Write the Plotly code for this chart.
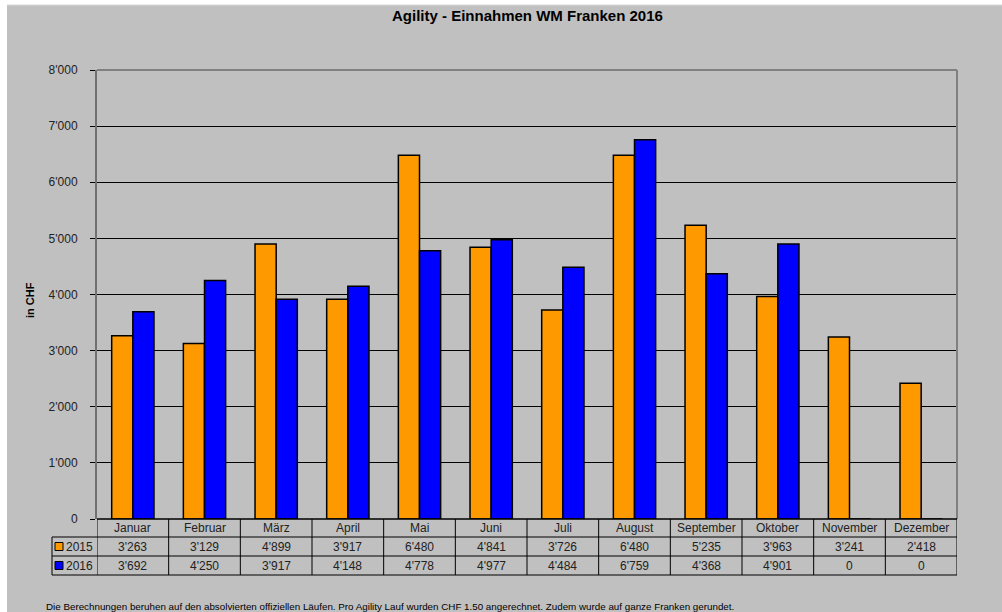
import plotly.graph_objects as go

months = ["Januar", "Februar", "März", "April", "Mai", "Juni", "Juli",
          "August", "September", "Oktober", "November", "Dezember"]
values_2015 = [3263, 3129, 4899, 3917, 6480, 4841, 3726, 6480, 5235, 3963, 3241, 2418]
values_2016 = [3692, 4250, 3917, 4148, 4778, 4977, 4484, 6759, 4368, 4901, 0, 0]
series_names = ["2015", "2016"]
series_colors = ["#FF9900", "#0000FF"]
y_ticks = [0, 1000, 2000, 3000, 4000, 5000, 6000, 7000, 8000]

W, H = 1002, 612
L, R, T, B = 97, 45, 70, 93
PW, PH = W - L - R, H - T - B


def px(X):
    return (X - L) / PW


def py(Y):
    return (H - B - Y) / PH


def fmt(v):
    return f"{v:,}".replace(",", "'")


FONT = "Liberation Sans, Arial, sans-serif"
GRAY = "#C0C0C0"
TXT = "#222222"

fig = go.Figure()
for name, vals, col in zip(series_names, [values_2015, values_2016], series_colors):
    fig.add_trace(go.Bar(
        x=months, y=vals, name=name,
        marker=dict(color=col, line=dict(color="black", width=1.5)),
        hoverinfo="x+y",
    ))

shapes = []
annotations = []

# background: white strip top/left, gray elsewhere
shapes.append(dict(type="rect", xref="paper", yref="paper",
                   x0=px(7), x1=px(W + 5), y0=py(5), y1=py(H + 5),
                   fillcolor=GRAY, line=dict(width=0), layer="below"))
shapes.append(dict(type="line", xref="paper", yref="paper",
                   x0=px(7), x1=px(W + 5), y0=py(5), y1=py(5),
                   line=dict(color="#D8D8D8", width=1), layer="below"))
# plot frame (top and right gray)
shapes.append(dict(type="line", xref="paper", yref="paper", x0=0, x1=1, y0=1, y1=1,
                   line=dict(color="#808080", width=2)))
shapes.append(dict(type="line", xref="paper", yref="paper", x0=1, x1=1, y0=0, y1=1,
                   line=dict(color="#808080", width=2)))

# table
row_y = [519, 537, 556, 575]
ln = dict(color="black", width=1)
shapes.append(dict(type="line", xref="paper", yref="paper", x0=0, x1=1,
                   y0=py(row_y[0]), y1=py(row_y[0]), line=dict(color="black", width=1.5)))
for Y in row_y[1:]:
    shapes.append(dict(type="line", xref="paper", yref="paper", x0=px(52), x1=1,
                       y0=py(Y), y1=py(Y), line=ln))
for i in range(len(months) + 1):
    shapes.append(dict(type="line", xref="x", yref="paper", x0=i - 0.5, x1=i - 0.5,
                       y0=py(row_y[0]), y1=py(row_y[3]), line=ln))
shapes.append(dict(type="line", xref="paper", yref="paper", x0=px(52), x1=px(52),
                   y0=py(row_y[1]), y1=py(row_y[3]), line=ln))

for i, m in enumerate(months):
    annotations.append(dict(x=i, y=py((row_y[0] + row_y[1]) / 2), xref="x", yref="paper",
                            xanchor="center", yanchor="middle",
                            text=m, showarrow=False, font=dict(size=12, color=TXT, family=FONT)))
for r, (name, vals, col) in enumerate(zip(series_names, [values_2015, values_2016], series_colors)):
    yc = (row_y[r + 1] + row_y[r + 2]) / 2
    for i, v in enumerate(vals):
        annotations.append(dict(x=i, y=py(yc), xref="x", yref="paper", text=fmt(v),
                                xanchor="center", yanchor="middle",
                                showarrow=False, font=dict(size=12, color=TXT, family=FONT)))
    shapes.append(dict(type="rect", xref="paper", yref="paper",
                       x0=px(55), x1=px(63), y0=py(yc + 4), y1=py(yc - 4),
                       fillcolor=col, line=dict(color="black", width=1)))
    annotations.append(dict(x=px(63.5), y=py(yc), xref="paper", yref="paper", text=name,
                            xanchor="left", yanchor="middle", showarrow=False,
                            font=dict(size=12, color=TXT, family=FONT)))

annotations.append(dict(x=px(30), y=py(300), xref="paper", yref="paper", text="<b>in CHF</b>",
                        xanchor="center", yanchor="middle",
                        textangle=-90, showarrow=False, font=dict(size=11, color="black", family=FONT)))
annotations.append(dict(x=px(44), y=py(606), xref="paper", yref="paper",
                        text="Die Berechnungen beruhen auf den absolvierten offiziellen Läufen. "
                             "Pro Agility Lauf wurden CHF 1.50 angerechnet. Zudem wurde auf ganze Franken gerundet.",
                        xanchor="left", yanchor="middle", showarrow=False,
                        font=dict(size=9.8, color="black", family=FONT)))
annotations.append(dict(x=0.5, y=py(16), xref="paper", yref="paper",
                        xanchor="center", yanchor="middle",
                        text="<b>Agility - Einnahmen WM Franken 2016</b>", showarrow=False,
                        font=dict(size=15, color="black", family=FONT)))

fig.update_layout(
    width=W, height=H,
    margin=dict(l=L, r=R, t=T, b=B, pad=0),
    paper_bgcolor="white", plot_bgcolor=GRAY,
    separators=".'",
    barmode="group", bargap=0.41, bargroupgap=0,
    showlegend=False,
    font=dict(family=FONT, size=11, color=TXT),
    shapes=shapes, annotations=annotations,
    xaxis=dict(showticklabels=False, ticks="", showgrid=False, showline=False,
               zeroline=False, range=[-0.5, 11.5]),
    yaxis=dict(range=[0, 8000], tickvals=y_ticks, tickformat=",d",
               showgrid=True, gridcolor="black", gridwidth=1,
               ticks="outside", ticklen=5, tickcolor="black",
               showline=True, linecolor="#707070", linewidth=2,
               zeroline=False, ticklabelstandoff=10,
               tickfont=dict(size=12, color=TXT, family=FONT)),
)

fig.write_html(
    "out.html",
    config={"displayModeBar": False},
    post_script="document.body.style.margin='0';document.body.style.overflow='hidden';",
)
